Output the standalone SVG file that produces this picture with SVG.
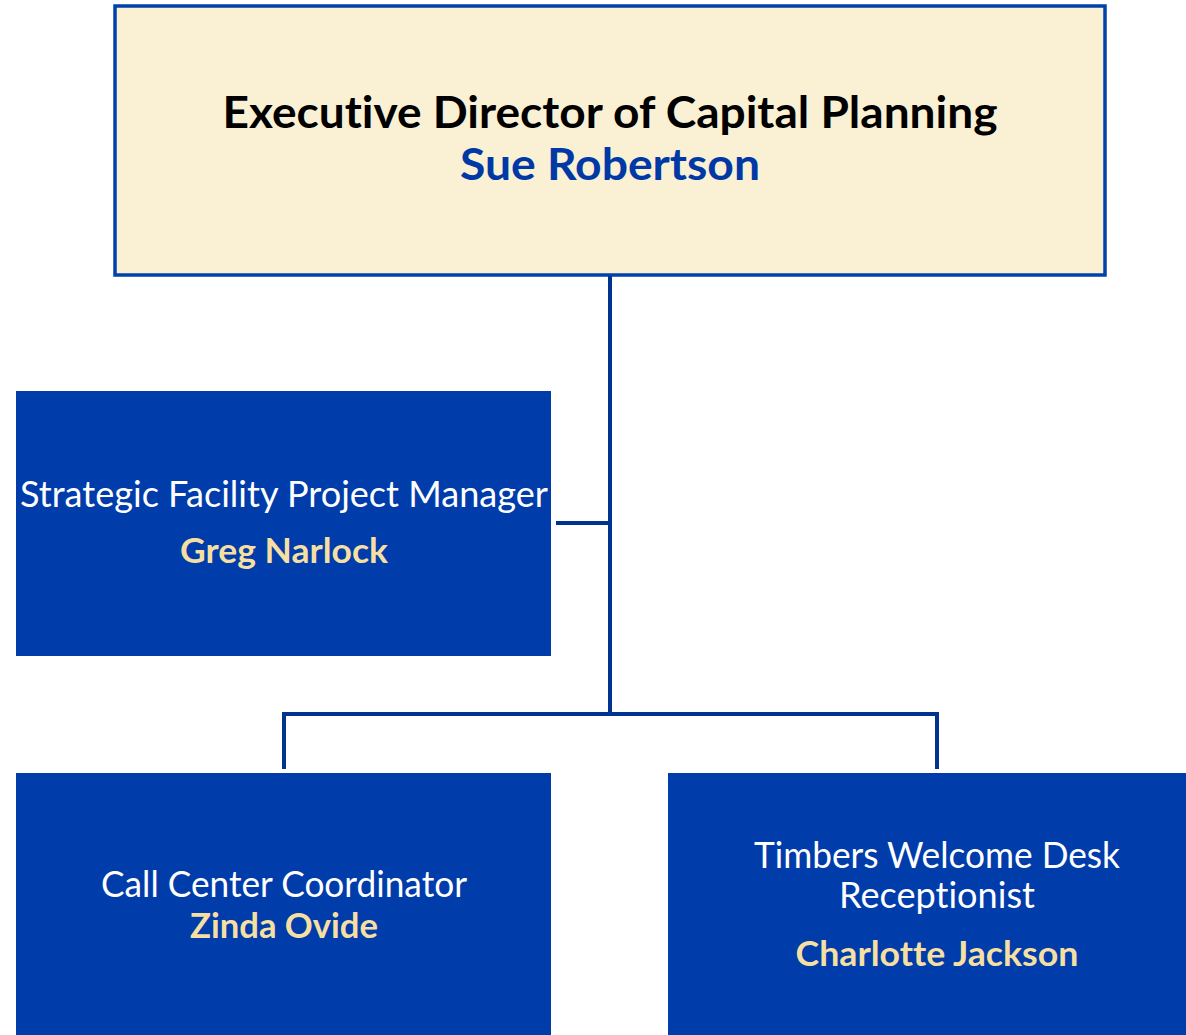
<svg xmlns="http://www.w3.org/2000/svg" width="1186" height="1035" viewBox="0 0 1186 1035">
<style>
text{font-variant-ligatures:none;font-feature-settings:"liga" 0,"clig" 0;}
.box{fill:#003CAA;}
.title{font-family:Lato,"Liberation Sans",sans-serif;fill:#FFFFFF;text-anchor:middle;font-size:36px;}
.name{font-family:Lato,"Liberation Sans",sans-serif;fill:#F6DFA2;text-anchor:middle;font-weight:bold;font-size:35px;}
.conn{stroke:#00338F;stroke-width:4;fill:none;}
</style>
<rect width="1186" height="1035" fill="#FFFFFF"/>
<g id="connectors">
<path class="conn" d="M610,276 V714"/>
<path class="conn" d="M556,523 H610"/>
<path class="conn" d="M284,769 V714 H937 V769"/>
</g>
<g id="node-exec">
<rect x="115" y="6" width="990" height="269" fill="#FAF0D4" stroke="#0041AA" stroke-width="3.5"/>
<text x="610" y="128" font-family="Lato,'Liberation Sans',sans-serif" font-weight="bold" font-size="43" fill="#000000" text-anchor="middle" textLength="775" lengthAdjust="spacingAndGlyphs">Executive Director of Capital Planning</text>
<text x="610" y="180" font-family="Lato,'Liberation Sans',sans-serif" font-weight="bold" font-size="43" fill="#0039A6" text-anchor="middle" textLength="300" lengthAdjust="spacingAndGlyphs">Sue Robertson</text>
</g>
<g id="node-strategic">
<rect class="box" x="16" y="391" width="535" height="265"/>
<text class="title" x="284" y="507" textLength="528" lengthAdjust="spacingAndGlyphs">Strategic Facility Project Manager</text>
<text class="name" x="284" y="563" textLength="208" lengthAdjust="spacingAndGlyphs">Greg Narlock</text>
</g>
<g id="node-callcenter">
<rect class="box" x="16" y="773" width="535" height="262"/>
<text class="title" x="284" y="897" textLength="366" lengthAdjust="spacingAndGlyphs">Call Center Coordinator</text>
<text class="name" x="284" y="938" textLength="188" lengthAdjust="spacingAndGlyphs">Zinda Ovide</text>
</g>
<g id="node-timbers">
<rect class="box" x="668" y="773" width="518" height="262"/>
<text class="title" x="937" y="868" textLength="366" lengthAdjust="spacingAndGlyphs">Timbers Welcome Desk</text>
<text class="title" x="937" y="908" textLength="196" lengthAdjust="spacingAndGlyphs">Receptionist</text>
<text class="name" x="937" y="966" textLength="283" lengthAdjust="spacingAndGlyphs">Charlotte Jackson</text>
</g>
</svg>
